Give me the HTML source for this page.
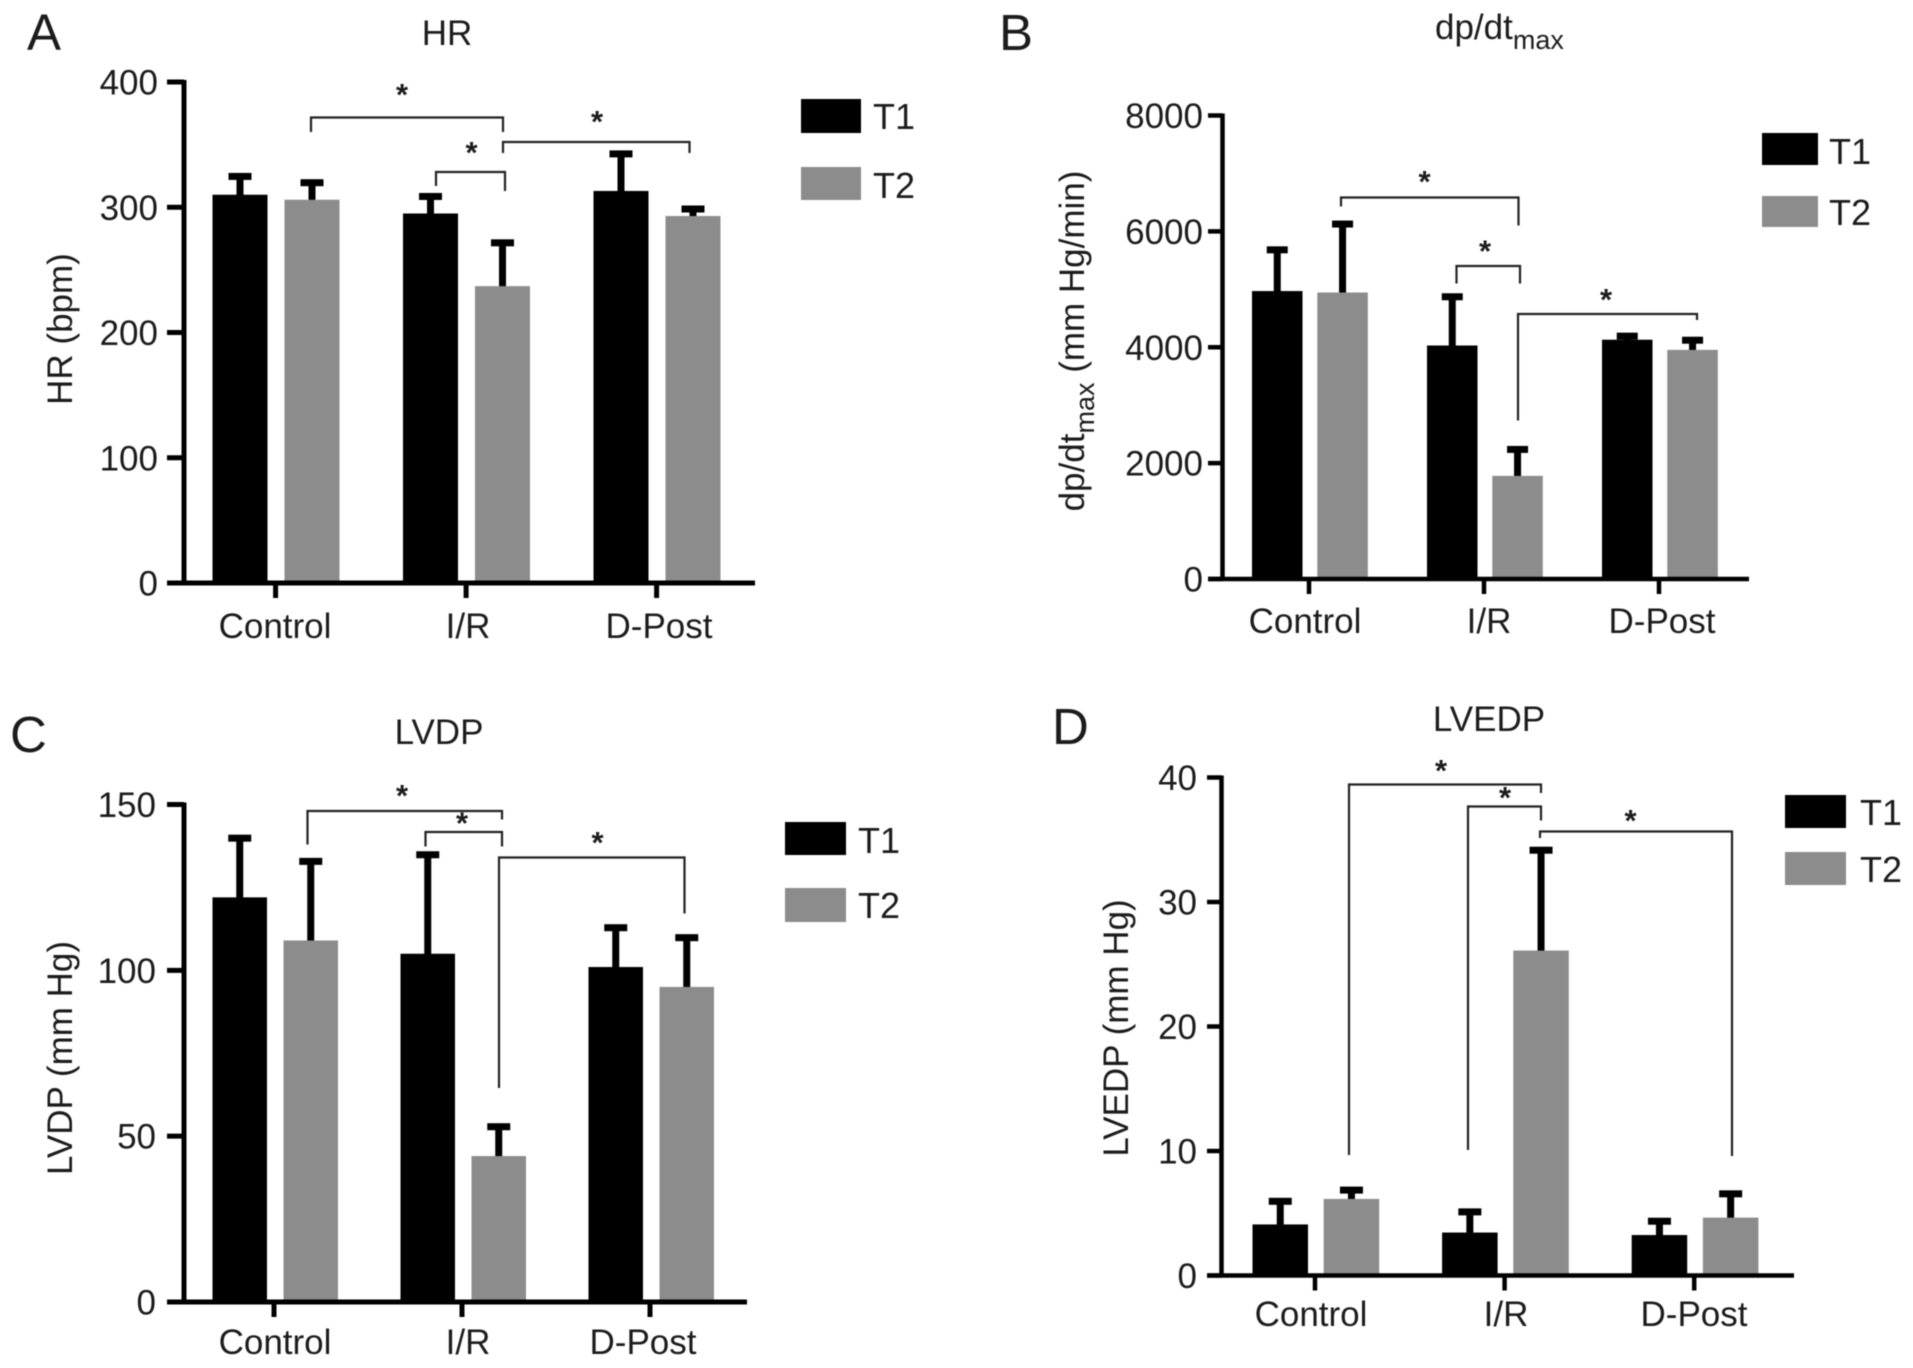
<!DOCTYPE html>
<html lang="en">
<head>
<meta charset="utf-8">
<title>Hemodynamic bar charts</title>
<style>
  html, body { margin: 0; padding: 0; background: #fff; }
  #figure { display: block; width: 1913px; height: 1368px; filter: blur(0.6px); }
  text { font-family: "Liberation Sans", sans-serif; fill: #1c1c1c; }
  .tick { font-size: 35px; }
  .title { font-size: 35px; }
  .axis-title { font-size: 35px; }
  .panel-letter { font-size: 51px; }
  .legend-label { font-size: 36px; }
  .star { font-size: 31px; font-weight: bold; }
</style>
</head>
<body>
<svg id="figure" xmlns="http://www.w3.org/2000/svg" width="1913" height="1368" viewBox="0 0 1913 1368">
  <rect x="0" y="0" width="1913" height="1368" fill="#fff"/>

  <text class="panel-letter" x="27" y="50">A</text>
  <text class="panel-letter" x="999" y="50">B</text>
  <text class="panel-letter" x="10" y="752">C</text>
  <text class="panel-letter" x="1052" y="744">D</text>

  <text class="title" x="447" y="45" text-anchor="middle">HR</text>
  <text class="title" x="1435" y="39">dp/dt<tspan dy="10" font-size="27">max</tspan></text>
  <text class="title" x="439" y="744" text-anchor="middle">LVDP</text>
  <text class="title" x="1489" y="731" text-anchor="middle">LVEDP</text>

  <text class="axis-title" transform="translate(72,329) rotate(-90)" text-anchor="middle">HR (bpm)</text>
  <text class="axis-title" transform="translate(1084,341) rotate(-90)" text-anchor="middle">dp/dt<tspan dy="10" font-size="27">max</tspan><tspan dy="-10"> (mm Hg/min)</tspan></text>
  <text class="axis-title" transform="translate(72,1058) rotate(-90)" text-anchor="middle">LVDP (mm Hg)</text>
  <text class="axis-title" transform="translate(1128,1028) rotate(-90)" text-anchor="middle">LVEDP (mm Hg)</text>

  <g>
    <rect x="801" y="99" width="60" height="34" fill="#000"/>
    <text class="legend-label" x="873" y="129">T1</text>
    <rect x="801" y="167" width="60" height="33" fill="#8c8c8c"/>
    <text class="legend-label" x="873" y="198">T2</text>
  </g>
  <g>
    <rect x="1762" y="133" width="56" height="32" fill="#000"/>
    <text class="legend-label" x="1829" y="164">T1</text>
    <rect x="1762" y="196" width="56" height="31" fill="#8c8c8c"/>
    <text class="legend-label" x="1829" y="225">T2</text>
  </g>
  <g>
    <rect x="785" y="822" width="61" height="33" fill="#000"/>
    <text class="legend-label" x="858" y="853">T1</text>
    <rect x="785" y="888" width="61" height="34" fill="#8c8c8c"/>
    <text class="legend-label" x="858" y="918">T2</text>
  </g>
  <g>
    <rect x="1785" y="795" width="61" height="33" fill="#000"/>
    <text class="legend-label" x="1860" y="825">T1</text>
    <rect x="1785" y="852" width="61" height="33" fill="#8c8c8c"/>
    <text class="legend-label" x="1860" y="882">T2</text>
  </g>
</svg>

<script>
const categories = ['Control', 'I/R', 'D-Post'];

const hrTicks = [0, 100, 200, 300, 400];
const hrT1 = [310, 295, 313];
const hrT2 = [306, 237, 293];
const hrT1Err = [15, 14, 30];
const hrT2Err = [14, 35, 6];

const dpdtTicks = [0, 2000, 4000, 6000, 8000];
const dpdtT1 = [4970, 4030, 4130];
const dpdtT2 = [4945, 1780, 3955];
const dpdtT1Err = [720, 850, 70];
const dpdtT2Err = [1190, 465, 175];

const lvdpTicks = [0, 50, 100, 150];
const lvdpT1 = [122, 105, 101];
const lvdpT2 = [109, 44, 95];
const lvdpT1Err = [18, 30, 12];
const lvdpT2Err = [24, 9, 15];

const lvedpTicks = [0, 10, 20, 30, 40];
const lvedpT1 = [4.1, 3.45, 3.25];
const lvedpT2 = [6.15, 26.1, 4.65];
const lvedpT1Err = [1.9, 1.7, 1.15];
const lvedpT2Err = [0.75, 8.1, 1.95];

const SVG_NS = 'http://www.w3.org/2000/svg';
const figure = document.getElementById('figure');

function make(tag, attrs, parent) {
  const node = document.createElementNS(SVG_NS, tag);
  for (const key in attrs) node.setAttribute(key, attrs[key]);
  parent.appendChild(node);
  return node;
}

function drawSeries(g, p, values, errs, seriesIndex, fill) {
  const xBar = function (i) { return p.barStart + i * p.groupStep + seriesIndex * p.barStep; };
  const yScale = function (v) { return p.bottom - (v / p.max) * (p.bottom - p.top); };
  values.forEach(function (value, i) {
    const left = xBar(i);
    const mid = left + p.barWidth / 2;
    const stem = make('rect', { x: mid - p.stem / 2, y: yScale(value + errs[i]), width: p.stem, height: yScale(value) - yScale(value + errs[i]) + 3, fill: '#000' }, g);
    
    
    const cap = make('rect', { x: mid - p.cap / 2, y: yScale(value + errs[i]) - 3, width: p.cap, height: 7, fill: '#000' }, g);
    
    
    const bar = make('rect', { x: left, y: yScale(value), width: p.barWidth, height: p.bottom - yScale(value), fill: fill }, g);
    
    
  });
}

function drawPanel(p) {
  const g = make('g', {}, figure);
  
  
  const yScale = function (v) { return p.bottom - (v / p.max) * (p.bottom - p.top); };
  const xTick = function (i) { return p.tickStart + i * p.groupStep; };

  drawSeries(g, p, p.t1, p.t1Err, 0, '#000');
  drawSeries(g, p, p.t2, p.t2Err, 1, '#8c8c8c');

  const yAxis = make('line', { x1: p.axisX, x2: p.axisX, y1: p.top - 2, y2: p.bottom + 2, stroke: '#000', 'stroke-width': p.axisWidth }, g);
  
  
  const xAxis = make('line', { x1: p.axisLeft, x2: p.axisRight, y1: p.bottom, y2: p.bottom, stroke: '#000', 'stroke-width': p.axisWidth }, g);
  
  

  p.ticks.forEach(function (value) {
    const mark = make('line', { x1: p.axisLeft, x2: p.axisX, y1: yScale(value), y2: yScale(value), stroke: '#000', 'stroke-width': p.axisWidth }, g);
    
    
    const label = make('text', { class: 'tick', x: p.labelRight, y: yScale(value) + 12.5, 'text-anchor': 'end' }, g);
    label.textContent = String(value);
    
    
  });

  categories.forEach(function (name, i) {
    const mark = make('line', { x1: xTick(i), x2: xTick(i), y1: p.bottom, y2: p.bottom + 15, stroke: '#000', 'stroke-width': p.axisWidth }, g);
    
    
    const label = make('text', { class: 'tick', x: p.catX[i], y: p.catY, 'text-anchor': 'middle' }, g);
    label.textContent = name;
    
    
  });
  return g;
}

function bracket(g, x1, x2, yTop, yLeft, yRight, starX, starY) {
  const path = make('path', { d: 'M' + x1 + ' ' + yLeft + 'V' + yTop + 'H' + x2 + 'V' + yRight, fill: 'none', stroke: '#222', 'stroke-width': 2.2 }, g);
  
  
  const star = make('text', { class: 'star', x: starX, y: starY + 14, 'text-anchor': 'middle' }, g);
  star.textContent = '*';
  
  
}

const hrChart = drawPanel({
  max: 400, top: 82, bottom: 583, axisX: 184, axisLeft: 167, axisRight: 755, axisWidth: 5,
  barStart: 212.5, groupStep: 190.5, barStep: 72, barWidth: 55, tickStart: 275.6,
  stem: 7, cap: 23, labelRight: 158, catX: [275, 468, 659], catY: 638,
  ticks: hrTicks, t1: hrT1, t2: hrT2, t1Err: hrT1Err, t2Err: hrT2Err
});
bracket(hrChart, 311, 503, 117.5, 132, 132, 402, 91);
bracket(hrChart, 436, 505, 172, 186, 191, 471.5, 149);
bracket(hrChart, 503, 689.5, 142, 153, 153, 597, 118);

const dpdtChart = drawPanel({
  max: 8000, top: 115.5, bottom: 579, axisX: 1222.5, axisLeft: 1208, axisRight: 1749, axisWidth: 4.5,
  barStart: 1252, groupStep: 175, barStep: 65.3, barWidth: 50.5, tickStart: 1309,
  stem: 7, cap: 21, labelRight: 1203, catX: [1305, 1489, 1662], catY: 633,
  ticks: dpdtTicks, t1: dpdtT1, t2: dpdtT2, t1Err: dpdtT1Err, t2Err: dpdtT2Err
});
bracket(dpdtChart, 1341, 1518.5, 197.5, 206.5, 225.5, 1424.5, 178);
bracket(dpdtChart, 1456.5, 1520, 266, 283.5, 283.5, 1485, 247.5);
bracket(dpdtChart, 1518, 1697, 314, 420.5, 320, 1606, 296);

const lvdpChart = drawPanel({
  max: 150, top: 804.5, bottom: 1302, axisX: 184, axisLeft: 167, axisRight: 747, axisWidth: 5,
  barStart: 212.5, groupStep: 188, barStep: 71, barWidth: 54.5, tickStart: 274,
  stem: 7, cap: 23, labelRight: 156, catX: [275, 468, 643], catY: 1354,
  ticks: lvdpTicks, t1: lvdpT1, t2: lvdpT2, t1Err: lvdpT1Err, t2Err: lvdpT2Err
});
bracket(lvdpChart, 307.5, 502, 811, 844.5, 819.5, 402, 792);
bracket(lvdpChart, 425.5, 502, 832, 846.5, 846.5, 462, 819.5);
bracket(lvdpChart, 499, 684.5, 857.5, 1088, 913.5, 597.5, 839);

const lvedpChart = drawPanel({
  max: 40, top: 777.5, bottom: 1275.5, axisX: 1221.5, axisLeft: 1207, axisRight: 1794, axisWidth: 4.5,
  barStart: 1252.5, groupStep: 189.6, barStep: 71.2, barWidth: 55.5, tickStart: 1315,
  stem: 7, cap: 23, labelRight: 1197, catX: [1311, 1506, 1694], catY: 1326,
  ticks: lvedpTicks, t1: lvedpT1, t2: lvedpT2, t1Err: lvedpT1Err, t2Err: lvedpT2Err
});
bracket(lvedpChart, 1349, 1541, 784.5, 1155, 793, 1441, 767);
bracket(lvedpChart, 1468, 1541, 806.5, 1150, 820.5, 1505, 794);
bracket(lvedpChart, 1540, 1732, 831.5, 838, 1156, 1630.5, 817);
</script>
</body>
</html>
